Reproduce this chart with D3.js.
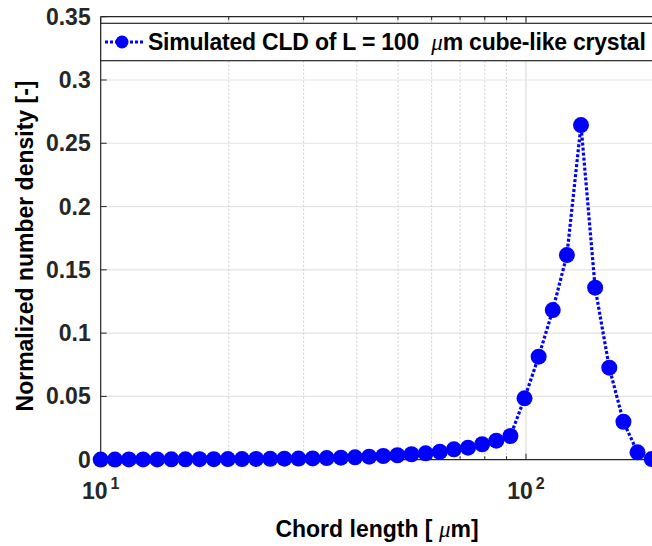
<!DOCTYPE html>
<html>
<head>
<meta charset="utf-8">
<title>Simulated CLD</title>
<script src="https://cdnjs.cloudflare.com/ajax/libs/d3/7.8.5/d3.min.js"></script>
<style>
body { margin: 0; background: #fff; }
svg { display: block; font-family: "Liberation Sans", Arial, Helvetica, sans-serif; }
.tick-label { fill: #262626; font-weight: bold; font-size: 23px; }
.axis-label { fill: #000; font-weight: bold; font-size: 23px; white-space: pre; }
.legend-label { fill: #000; font-weight: bold; font-size: 23px; white-space: pre; letter-spacing: -0.22px; }
</style>
</head>
<body>
<script>

// chord length bins (um) and normalized number density
var chordLength = [10.00, 10.80, 11.65, 12.58, 13.58, 14.66, 15.82, 17.08, 18.44, 19.91,
                   21.49, 23.20, 25.04, 27.03, 29.18, 31.50, 34.00, 36.71, 39.63, 42.78,
                   46.18, 49.85, 53.81, 58.09, 62.71, 67.69, 73.07, 78.88, 85.15, 91.92,
                   99.22, 107.1, 115.6, 124.8, 134.7, 145.4, 157.0, 169.5, 182.9, 197.5];
var density = [0.0001, 0.0001, 0.0002, 0.0002, 0.0002, 0.0003, 0.0003, 0.0004, 0.0004, 0.0005,
               0.0005, 0.0006, 0.0007, 0.0008, 0.0009, 0.0010, 0.0013, 0.0016, 0.0019, 0.0024,
               0.0029, 0.0035, 0.0043, 0.0050, 0.0063, 0.0082, 0.0095, 0.0122, 0.0150, 0.0187,
               0.0485, 0.0814, 0.1182, 0.1617, 0.2644, 0.1359, 0.0727, 0.0300, 0.0058, 0.0005];

var yTicks = [0, 0.05, 0.1, 0.15, 0.2, 0.25, 0.3, 0.35];
var yTickLabels = ["0", "0.05", "0.1", "0.15", "0.2", "0.25", "0.3", "0.35"];
var xMajor = [10, 100];
var xMinor = [20, 30, 40, 50, 60, 70, 80, 90, 200];
var legendText = "Simulated CLD of L = 100  ";

var width = 652,
    height = 546;

// plot box (note: "top" is reserved on window, so use pTop etc.)
var pLeft = 100.7, pTop = 16.7, pBottom = 459.7, pRight = 654;

var x = d3.scaleLog().domain([10, 200]).range([pLeft, pRight]);
var y = d3.scaleLinear().domain([0, 0.35]).range([pBottom, pTop]);

var svg = d3.select("body").append("svg")
    .attr("width", width)
    .attr("height", height);

var data = chordLength.map(function(d, i) { return [d, density[i]]; });

// grid
var grid = svg.append("g");
grid.selectAll(".hgrid")
    .data(yTicks.slice(1))
  .enter().append("line")
    .attr("x1", pLeft).attr("x2", pRight)
    .attr("y1", function(d) { return y(d); })
    .attr("y2", function(d) { return y(d); })
    .style("stroke", "#e3e3e3")
    .style("stroke-width", 1.2);

grid.selectAll(".vminor")
    .data(xMinor)
  .enter().append("line")
    .attr("x1", function(d) { return x(d); })
    .attr("x2", function(d) { return x(d); })
    .attr("y1", pTop).attr("y2", pBottom)
    .style("stroke", "#c4c4c4")
    .style("stroke-width", 0.8)
    .style("stroke-dasharray", "2,2");

grid.append("line")
    .attr("x1", x(100)).attr("x2", x(100))
    .attr("y1", pTop).attr("y2", pBottom)
    .style("stroke", "#e3e3e3")
    .style("stroke-width", 1.5);

// axes box and ticks
var ax = svg.append("g").style("stroke", "#262626");
ax.append("line").attr("x1", pLeft).attr("x2", pRight).attr("y1", pBottom).attr("y2", pBottom).style("stroke-width", 1.2);
ax.append("line").attr("x1", pLeft).attr("x2", pRight).attr("y1", pTop).attr("y2", pTop).style("stroke-width", 1.2);
ax.append("line").attr("x1", pLeft).attr("x2", pLeft).attr("y1", pTop).attr("y2", pBottom).style("stroke-width", 1.2);

yTicks.forEach(function(t) {
  ax.append("line").attr("x1", pLeft).attr("x2", pLeft + 6).attr("y1", y(t)).attr("y2", y(t)).style("stroke-width", 1);
});
xMajor.forEach(function(t) {
  ax.append("line").attr("x1", x(t)).attr("x2", x(t)).attr("y1", pBottom).attr("y2", pBottom - 6).style("stroke-width", 1);
  ax.append("line").attr("x1", x(t)).attr("x2", x(t)).attr("y1", pTop).attr("y2", pTop + 6).style("stroke-width", 1);
});
xMinor.forEach(function(t) {
  ax.append("line").attr("x1", x(t)).attr("x2", x(t)).attr("y1", pBottom).attr("y2", pBottom - 3.5).style("stroke-width", 1);
  ax.append("line").attr("x1", x(t)).attr("x2", x(t)).attr("y1", pTop).attr("y2", pTop + 3.5).style("stroke-width", 1);
});

// tick labels
svg.selectAll(".ylab")
    .data(yTicks)
  .enter().append("text")
    .attr("class", "tick-label")
    .attr("x", pLeft - 10)
    .attr("y", function(d) { return y(d) + 8; })
    .attr("text-anchor", "end")
    .text(function(d, i) { return yTickLabels[i]; });

xMajor.forEach(function(t) {
  var tx = svg.append("text")
      .attr("class", "tick-label")
      .attr("x", x(t))
      .attr("y", 499)
      .attr("text-anchor", "middle");
  tx.append("tspan").text("10");
  tx.append("tspan").attr("dx", 3).attr("dy", -10).style("font-size", "16px").text(Math.round(Math.log10(t)));
});

// axis labels
var xl = svg.append("text")
    .attr("class", "axis-label")
    .attr("x", 377)
    .attr("y", 537)
    .attr("text-anchor", "middle");
xl.append("tspan").text("Chord length [ ");
xl.append("tspan").style("font-family", "'Liberation Serif', serif").style("font-style", "italic").style("font-weight", "normal").text("\u03bc");
xl.append("tspan").text("m]");

svg.append("text")
    .attr("class", "axis-label")
    .attr("transform", "translate(33,246)rotate(-90)")
    .attr("text-anchor", "middle")
    .text("Normalized number density [-]");

// data
var line = d3.line()
    .x(function(d) { return x(d[0]); })
    .y(function(d) { return y(d[1]); });

svg.append("path")
    .datum(data)
    .attr("d", line)
    .style("fill", "none")
    .style("stroke", "#0000ff")
    .style("stroke-width", 3.2)
    .style("stroke-dasharray", "3,2");

svg.selectAll(".pt")
    .data(data)
  .enter().append("circle")
    .attr("cx", function(d) { return x(d[0]); })
    .attr("cy", function(d) { return y(d[1]); })
    .attr("r", 8)
    .style("fill", "#0000ff");

// legend
var lg = svg.append("g");
lg.append("rect")
    .attr("x", pLeft).attr("y", 23.3)
    .attr("width", 560).attr("height", 37.4)
    .style("fill", "#fff")
    .style("stroke", "#262626")
    .style("stroke-width", 1.2);
lg.append("line")
    .attr("x1", 105).attr("x2", 143).attr("y1", 42).attr("y2", 42)
    .style("stroke", "#0000ff")
    .style("stroke-width", 3.2)
    .style("stroke-dasharray", "3,2");
lg.append("circle")
    .attr("cx", 122).attr("cy", 42).attr("r", 6.5)
    .style("fill", "#0000ff");
var lt = lg.append("text")
    .attr("class", "legend-label")
    .attr("x", 148)
    .attr("y", 50);
lt.append("tspan").text(legendText);
lt.append("tspan").style("font-family", "'Liberation Serif', serif").style("font-style", "italic").style("font-weight", "normal").text("\u03bc");
lt.append("tspan").text("m cube-like crystal");

    </script>
</body>
</html>
